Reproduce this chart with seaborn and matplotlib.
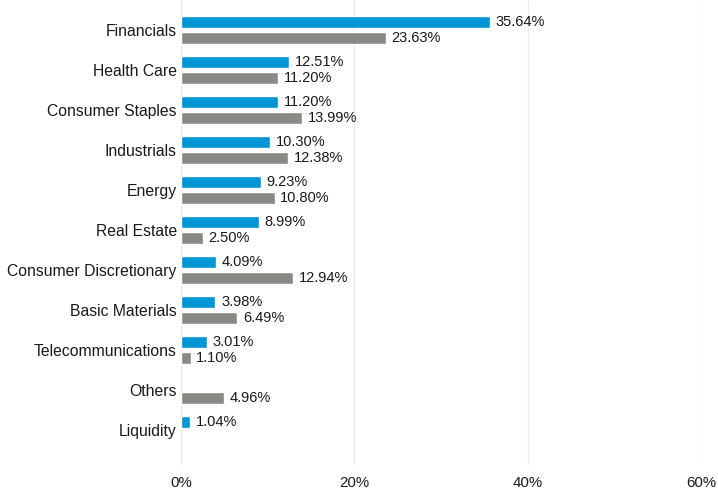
import numpy as np
import pandas as pd
import matplotlib
matplotlib.use("Agg")
import matplotlib.pyplot as plt
import seaborn as sns

categories = ["Financials", "Health Care", "Consumer Staples", "Industrials", "Energy",
              "Real Estate", "Consumer Discretionary", "Basic Materials",
              "Telecommunications", "Others", "Liquidity"]
fund = [35.64, 12.51, 11.20, 10.30, 9.23, 8.99, 4.09, 3.98, 3.01, np.nan, 1.04]
index = [23.63, 11.20, 13.99, 12.38, 10.80, 2.50, 12.94, 6.49, 1.10, 4.96, np.nan]
series_names = ["Fund", "Index"]
xticks = [0, 20, 40, 60]

sns.set_theme(style="white")
plt.rcParams["font.family"] = ["Liberation Sans", "DejaVu Sans"]

df = pd.DataFrame({
    "cat": categories * 2,
    "val": fund + index,
    "series": [series_names[0]] * len(categories) + [series_names[1]] * len(categories),
})

fig = plt.figure(figsize=(7.18, 4.92), dpi=100)
ax = fig.add_axes([181 / 718, 27 / 492, 520 / 718, 465 / 492])
sns.barplot(data=df, y="cat", x="val", hue="series", orient="h",
            palette=["#0096D6", "#8A8984"], width=0.82, gap=0.26,
            legend=False, ax=ax, saturation=1)

for cont in ax.containers:
    labels = [("" if np.isnan(v) else f"{v:.2f}%") for v in cont.datavalues]
    ax.bar_label(cont, labels=labels, padding=4, fontsize=10.5, color="#1a1a1a")

ax.set_xlim(0, 60)
ax.set_ylim(10.88, -0.75)
ax.set_xticks(xticks)
ax.set_xticklabels([f"{t}%" for t in xticks], fontsize=10.8, color="#1a1a1a")
ax.tick_params(axis="y", labelsize=11.3, labelcolor="#1a1a1a", length=0, pad=3)
ax.tick_params(axis="x", length=0, pad=8)
ax.set_xlabel("")
ax.set_ylabel("")
ax.grid(axis="x", color="#EBEBEB", linewidth=1)
ax.set_axisbelow(True)
for s in ax.spines.values():
    s.set_visible(False)

fig.savefig("out.png", dpi=100)
